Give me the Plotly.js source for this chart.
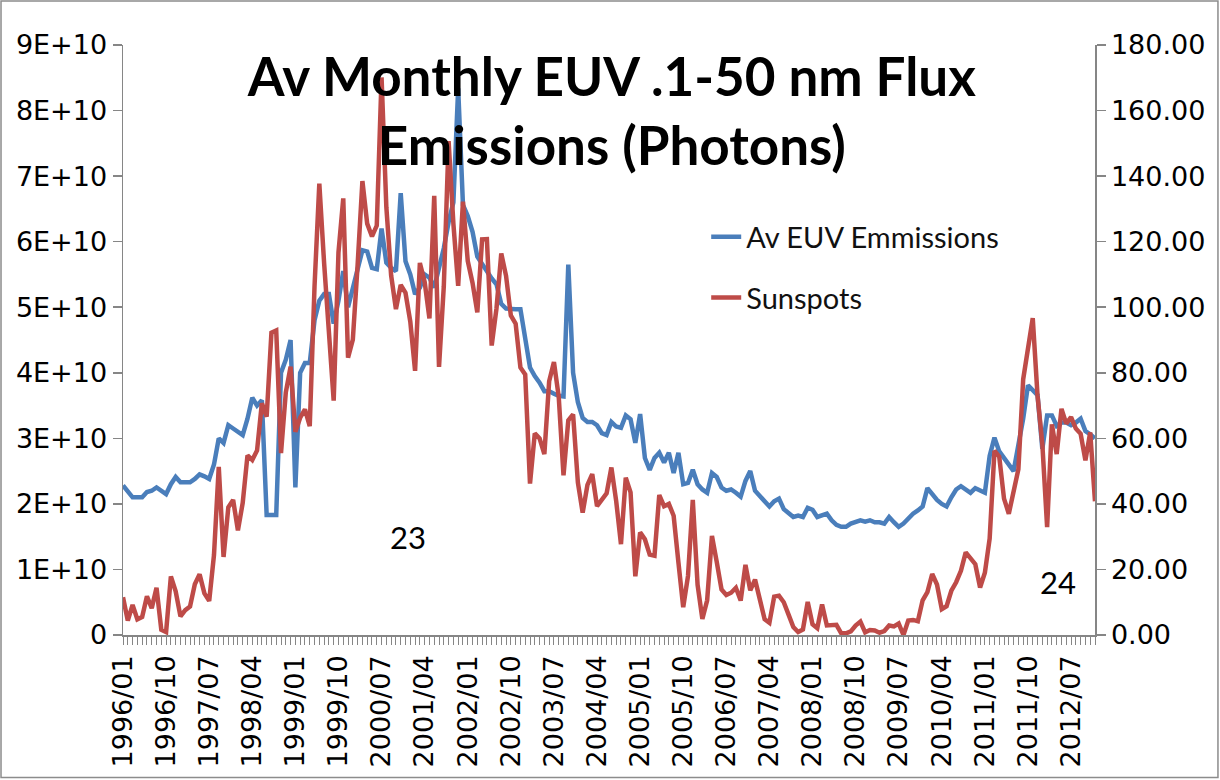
<!DOCTYPE html>
<html>
<head>
<meta charset="utf-8">
<script src="https://cdn.plot.ly/plotly-3.0.1.min.js"></script>
<style>html,body{margin:0;padding:0;background:#fff;}#chart{width:1220px;height:780px;}</style>
</head>
<body>
<div id="chart"></div>
<script>
// Monthly categories 1996/01 .. 2012/12
const months = [];
for (let y = 1996; y <= 2012; y++) for (let m = 1; m <= 12; m++) months.push(y + "/" + String(m).padStart(2, "0"));

// Av EUV 0.1-50 nm emissions, in units of 1E+10 photons (left axis)
const euvE10 = [
2.28,2.18,2.10,2.10,2.10,2.18,2.20,2.25,2.20,2.15,2.30,2.41,
2.33,2.33,2.33,2.38,2.45,2.42,2.38,2.60,3.00,2.93,3.20,3.15,
3.10,3.05,3.30,3.62,3.50,3.58,1.83,1.83,1.83,4.00,4.20,4.50,
2.25,4.00,4.15,4.15,4.80,5.10,5.20,5.20,4.75,5.10,5.55,5.00,
5.30,5.60,5.87,5.85,5.60,5.58,6.20,5.68,5.60,5.55,6.74,5.70,
5.50,5.20,5.30,5.50,5.45,5.30,5.60,5.90,6.30,6.60,8.34,6.56,
6.39,6.15,5.77,5.65,5.55,5.44,5.35,5.05,4.98,4.97,4.97,4.97,
4.49,4.08,3.95,3.85,3.72,3.72,3.68,3.65,3.64,5.65,4.00,3.55,
3.31,3.25,3.25,3.20,3.08,3.05,3.25,3.18,3.16,3.35,3.29,2.93,
3.37,2.70,2.52,2.70,2.78,2.63,2.78,2.47,2.78,2.30,2.32,2.52,
2.30,2.22,2.17,2.47,2.41,2.25,2.20,2.22,2.17,2.11,2.35,2.50,
2.20,2.12,2.05,1.96,2.04,2.08,1.92,1.85,1.80,1.82,1.80,1.94,
1.91,1.80,1.83,1.85,1.75,1.68,1.65,1.65,1.70,1.72,1.75,1.73,
1.75,1.72,1.72,1.70,1.80,1.72,1.65,1.70,1.78,1.85,1.90,1.96,
2.24,2.15,2.06,2.00,1.96,2.10,2.22,2.27,2.22,2.17,2.24,2.20,
2.17,2.73,3.01,2.80,2.70,2.60,2.50,2.90,3.30,3.81,3.74,3.66,
2.84,3.35,3.35,3.19,3.24,3.24,3.20,3.24,3.30,3.11,3.06,3.00
];

// Monthly sunspot number (right axis)
const sunspots = [
11.5,4.4,9.2,4.8,5.5,11.8,8.2,14.4,1.6,0.9,17.9,13.3,
5.7,7.6,8.7,15.5,18.5,12.7,10.4,24.4,51.3,23.8,39.0,41.2,
31.9,40.3,54.8,53.4,56.3,70.7,66.6,92.2,92.9,55.5,74.0,81.9,
62.0,66.3,68.8,63.7,106.4,137.7,113.5,93.7,71.5,116.7,133.2,84.6,
90.1,112.9,138.5,125.5,121.6,124.9,170.1,130.5,109.7,99.4,106.8,104.4,
95.6,80.6,113.5,107.7,96.6,134.0,81.8,106.4,150.7,125.5,106.5,132.2,
114.1,107.4,98.4,120.7,120.8,88.3,99.6,116.4,109.6,97.5,95.0,81.6,
79.5,46.2,61.5,60.0,55.2,77.4,83.3,72.7,48.7,65.5,67.3,46.5,
37.3,45.8,49.1,39.3,41.5,43.2,51.1,40.9,27.7,48.0,43.5,17.9,
31.3,29.2,24.5,24.2,42.7,39.3,40.0,36.4,22.1,8.5,18.0,41.2,
15.3,4.9,10.6,30.2,22.3,13.9,12.2,12.9,14.4,10.5,21.4,13.6,
16.9,10.6,4.8,3.7,11.7,12.0,10.0,6.2,2.4,0.9,1.7,10.1,
3.3,2.1,9.3,2.9,2.9,3.1,0.5,0.5,1.1,2.9,4.1,0.8,
1.5,1.4,0.7,1.2,2.9,2.6,3.5,0.0,4.4,4.6,4.2,10.6,
13.1,18.6,15.4,7.9,8.8,13.5,16.1,19.6,25.2,23.5,21.6,14.5,
19.0,29.4,56.2,54.4,41.6,37.0,43.9,50.6,78.0,88.0,96.7,73.0,
58.3,32.9,64.3,55.2,69.0,64.5,66.5,63.0,61.4,53.3,61.8,40.8
];

const leftTickVals = [0,1e10,2e10,3e10,4e10,5e10,6e10,7e10,8e10,9e10];
const leftTickText = ["0","1E+10","2E+10","3E+10","4E+10","5E+10","6E+10","7E+10","8E+10","9E+10"];
const labelStep = 9;

const idx = months.map((_, i) => i);
const xTickVals = idx.filter(i => i % labelStep === 0);
const xTickText = xTickVals.map(i => months[i]);

const FONT = "Lato, 'Open Sans', sans-serif";
const TICKFONT = "'DejaVu Sans', Verdana, sans-serif";

const traces = [
  {
    x: idx, y: euvE10.map(v => v * 1e10), name: "Av EUV Emmissions",
    type: "scatter", mode: "lines", legendgroup: "a",
    line: {color: "#4a7ebb", width: 4.5}, text: months, xaxis: "x", yaxis: "y"
  },
  {
    x: idx, y: sunspots, name: "Sunspots",
    type: "scatter", mode: "lines", legendgroup: "b",
    line: {color: "#be4b48", width: 4.5}, text: months, xaxis: "x", yaxis: "y2"
  }
];

const axisColor = "#868686";
const layout = {
  width: 1220, height: 780,
  margin: {l: 123, r: 125, t: 45, b: 145, pad: 0},
  paper_bgcolor: "#ffffff", plot_bgcolor: "#ffffff",
  font: {family: FONT, color: "#000000", size: 26},
  title: {
    text: "<b>Av Monthly EUV .1-50 nm Flux<br>Emissions (Photons)</b>",
    font: {family: FONT, size: 53, color: "#000000"},
    x: 0.5015, xanchor: "center", y: 0.877, yanchor: "middle"
  },
  showlegend: true,
  legend: {
    x: 0.6, xanchor: "left", y: 0.718, yanchor: "top",
    font: {family: FONT, size: 29, color: "#111"},
    bgcolor: "rgba(0,0,0,0)", traceorder: "grouped", tracegroupgap: 20,
    itemwidth: 30
  },
  xaxis: {
    type: "linear", range: [0, months.length - 1],
    tickmode: "array", tickvals: xTickVals, ticktext: xTickText,
    tickangle: -90, tickfont: {family: TICKFONT, size: 27, color: "#000"},
    showline: true, linecolor: axisColor, linewidth: 1.5,
    ticks: "outside", ticklen: 8, tickcolor: axisColor, tickwidth: 1,
    minor: {dtick: 1, tick0: 0, ticks: "outside", ticklen: 8, tickcolor: axisColor, tickwidth: 1, showgrid: false},
    showgrid: false, zeroline: false, fixedrange: true
  },
  yaxis: {
    range: [0, 9e10], tickmode: "array", tickvals: leftTickVals, ticktext: leftTickText,
    tickfont: {family: TICKFONT, size: 27, color: "#000"},
    showline: true, linecolor: axisColor, linewidth: 1.5,
    ticks: "outside", ticklen: 9, tickcolor: axisColor, tickwidth: 1.5,
    showgrid: false, zeroline: false, fixedrange: true
  },
  yaxis2: {
    range: [0, 180], dtick: 20, tick0: 0, tickformat: ".2f",
    overlaying: "y", side: "right",
    tickfont: {family: TICKFONT, size: 27, color: "#000"},
    showline: true, linecolor: axisColor, linewidth: 1.5,
    ticks: "outside", ticklen: 9, tickcolor: axisColor, tickwidth: 1.5,
    showgrid: false, zeroline: false, fixedrange: true
  },
  annotations: [
    {x: 59.5, y: 1.49e10, xref: "x", yref: "y", text: "23", showarrow: false,
     font: {family: FONT, size: 31, color: "#000"}},
    {x: 195.3, y: 0.81e10, xref: "x", yref: "y", text: "24", showarrow: false,
     font: {family: FONT, size: 31, color: "#000"}}
  ],
  shapes: [
    {type: "rect", xref: "paper", yref: "paper",
     x0: -0.1255, x1: 1.1265, y0: -0.2415, y1: 1.0746,
     line: {color: "#8c8c8c", width: 1.5}, fillcolor: "rgba(0,0,0,0)", layer: "below"}
  ]
};

Plotly.newPlot("chart", traces, layout, {displayModeBar: false, staticPlot: true});
</script>
</body>
</html>
